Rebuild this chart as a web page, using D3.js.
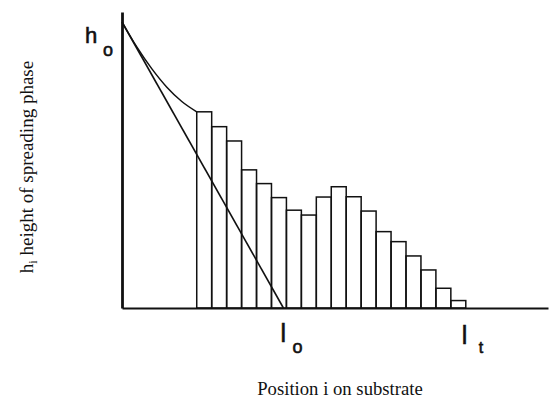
<!DOCTYPE html>
<html>
<head>
<meta charset="utf-8">
<title>spreading phase</title>
<script src="https://cdn.jsdelivr.net/npm/d3@7"></script>
<style>
  body { margin: 0; background: #fff; }
  .lbl { font-family: "Liberation Sans", Arial, sans-serif; fill: #111; stroke: #111; stroke-width: 0.6px; }
  .serif { font-family: "Liberation Serif", "Times New Roman", serif; fill: #111; }
</style>
</head>
<body>
<script>
// values, h0 = 100, one unit = one bar width
var h0 = 100;
var l0 = 10.8;
var lt = 23;
var barStart = 5;
var barHeights = [68.6, 63.4, 58.4, 48.3, 43.5, 38.6, 34.2, 32.5, 38.8, 42.4, 38.9, 33.9, 26.7, 23.2, 18.2, 13.3, 6.9, 2.6];
var curveX = [0, 1, 2, 3, 4, 5];
var curveY = [100, 91.2, 83.6, 77.2, 72.2, 68.6];
var xMax = 28.5, yMax = 103.5;

var width = 550, height = 413;
var svg = d3.select("body").append("svg").attr("width", width).attr("height", height);

var x = d3.scaleLinear().domain([0, xMax]).range([122, 548]);
var y = d3.scaleLinear().domain([0, yMax]).range([308, 12]);

var bars = barHeights.map(function(h, i){ return {x0: barStart + i, x1: barStart + i + 1, h: h}; });

svg.selectAll("rect.bar")
   .data(bars)
   .enter().append("rect")
   .attr("class", "bar")
   .attr("x", function(d){ return x(d.x0); })
   .attr("y", function(d){ return y(d.h); })
   .attr("width", function(d){ return x(d.x1) - x(d.x0); })
   .attr("height", function(d){ return y(0) - y(d.h); })
   .attr("fill", "none")
   .attr("stroke", "#111")
   .attr("stroke-width", 1.5);

// curved profile from h0 to first bar
var curve = d3.line()
   .x(function(d){ return x(d[0]); })
   .y(function(d){ return y(d[1]); })
   .curve(d3.curveMonotoneX);
svg.append("path")
   .attr("d", curve(d3.zip(curveX, curveY)))
   .attr("fill", "none")
   .attr("stroke", "#111")
   .attr("stroke-width", 1.5);

// straight line h0 -> l0
svg.append("path")
   .attr("d", curve([[0, h0], [l0, 0]]))
   .attr("fill", "none")
   .attr("stroke", "#111")
   .attr("stroke-width", 1.6);

// axes, no ticks
var xAxis = svg.append("g").attr("transform", "translate(0," + y(0) + ")")
   .call(d3.axisBottom(x).tickValues([]).tickSizeOuter(0));
var yAxis = svg.append("g").attr("transform", "translate(" + x(0) + ",0)")
   .call(d3.axisLeft(y).tickValues([]).tickSizeOuter(0));
xAxis.select(".domain").attr("stroke", "#111").attr("stroke-width", 2.2);
yAxis.select(".domain").attr("stroke", "#111").attr("stroke-width", 2.8);

// h0 label
svg.append("text").attr("class", "lbl")
   .attr("x", x(0) - 37).attr("y", y(h0) + 21)
   .style("font-size", "22px").text("h");
svg.append("text").attr("class", "lbl")
   .attr("x", x(0) - 19).attr("y", y(h0) + 34)
   .style("font-size", "18px").text("o");

// l0 and lt labels
svg.append("text").attr("class", "lbl")
   .attr("x", x(l0) - 3).attr("y", y(0) + 34)
   .style("font-size", "25px").text("l");
svg.append("text").attr("class", "lbl")
   .attr("x", x(l0) + 9).attr("y", y(0) + 45)
   .style("font-size", "18px").text("o");
svg.append("text").attr("class", "lbl")
   .attr("x", x(lt) - 4).attr("y", y(0) + 36)
   .style("font-size", "25px").text("l");
svg.append("text").attr("class", "lbl")
   .attr("x", x(lt) + 13).attr("y", y(0) + 45)
   .style("font-size", "16px").text("t");

// axis titles
svg.append("text").attr("class", "serif")
   .attr("x", 340).attr("y", 395)
   .attr("text-anchor", "middle")
   .style("font-size", "18.7px")
   .text("Position i on substrate");

var yt = svg.append("text").attr("class", "serif")
   .attr("transform", "translate(33,167) rotate(-90)")
   .attr("text-anchor", "middle")
   .style("font-size", "19px");
yt.append("tspan").text("h");
yt.append("tspan").attr("dy", 4).style("font-size", "12px").text("i");
yt.append("tspan").attr("dy", -4).text(" height of spreading phase");
</script>
</body>
</html>
